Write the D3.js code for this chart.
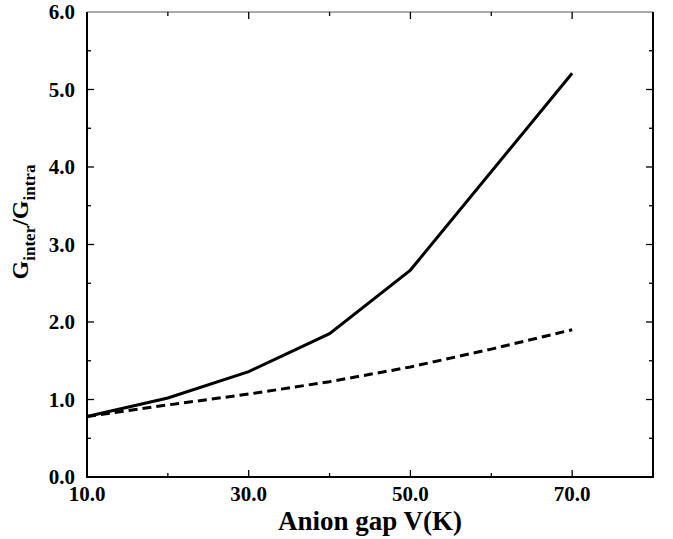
<!DOCTYPE html>
<html>
<head>
<meta charset="utf-8">
<script src="https://cdnjs.cloudflare.com/ajax/libs/d3/7.8.5/d3.min.js"></script>
<style>
  body { margin: 0; background: #fff; }
  text { font-family: "Liberation Serif", "Times New Roman", serif; font-weight: bold; }
</style>
</head>
<body>
<script>
var gapValues = [10, 20, 30, 40, 50, 70];
var solidRatio = [0.78, 1.02, 1.36, 1.85, 2.67, 5.21];
var dashedGap = [10, 20, 30, 40, 50, 60, 70];
var dashedRatio = [0.78, 0.93, 1.07, 1.23, 1.42, 1.65, 1.90];
var xTickLabels = [10, 30, 50, 70];
var yTickLabels = [0, 1, 2, 3, 4, 5, 6];

var width = 673,
    height = 539;
var margin = {left: 87, right: 20, top: 12, bottom: 62};

var svg = d3.select("body")
    .append("svg")
    .attr("width", width)
    .attr("height", height);

var x = d3.scaleLinear()
    .domain([10, 80])
    .range([margin.left, width - margin.right]);

var y = d3.scaleLinear()
    .domain([0, 6])
    .range([height - margin.bottom, margin.top]);

// frame
svg.append("line")
    .attr("x1", x(10)).attr("x2", x(80))
    .attr("y1", y(6)).attr("y2", y(6))
    .attr("stroke", "#aaa").attr("stroke-width", 2);

svg.append("path")
    .attr("d", "M" + x(10) + "," + y(6) + "V" + y(0) + "H" + x(80) + "V" + y(6))
    .attr("fill", "none")
    .attr("stroke", "#000")
    .attr("stroke-width", 2);

// ticks (inward)
function ticks(vals, len) {
    var g = svg.append("g").attr("stroke", "#000").attr("stroke-width", 1.3);
    vals.forEach(function(v){
        g.append("line").attr("x1", x(v)).attr("x2", x(v)).attr("y1", y(0)).attr("y2", y(0) - len);
        g.append("line").attr("x1", x(v)).attr("x2", x(v)).attr("y1", y(6)).attr("y2", y(6) + len);
    });
}
ticks(xTickLabels, 7);
ticks([20, 40, 60], 4);

function yticks(vals, len) {
    var g = svg.append("g").attr("stroke", "#000").attr("stroke-width", 1.3);
    vals.forEach(function(v){
        g.append("line").attr("x1", x(10)).attr("x2", x(10) + len).attr("y1", y(v)).attr("y2", y(v));
        g.append("line").attr("x1", x(80)).attr("x2", x(80) - len).attr("y1", y(v)).attr("y2", y(v));
    });
}
yticks(yTickLabels.slice(1, 6), 7);
yticks([0.5, 1.5, 2.5, 3.5, 4.5, 5.5], 4);

// tick labels
svg.selectAll(".xl")
    .data(xTickLabels)
    .enter()
    .append("text")
    .attr("x", function(d){ return x(d); })
    .attr("y", 501)
    .attr("text-anchor", "middle")
    .attr("font-size", 21)
    .text(function(d){ return d.toFixed(1); });

svg.selectAll(".yl")
    .data(yTickLabels)
    .enter()
    .append("text")
    .attr("x", 75)
    .attr("y", function(d){ return y(d) + 7; })
    .attr("text-anchor", "end")
    .attr("font-size", 21)
    .text(function(d){ return d.toFixed(1); });

// axis titles
svg.append("text")
    .attr("x", (x(10) + x(80)) / 2)
    .attr("y", 530)
    .attr("text-anchor", "middle")
    .attr("font-size", 27)
    .text("Anion gap V(K)");

var yt = svg.append("text")
    .attr("transform", "translate(28,222) rotate(-90)")
    .attr("text-anchor", "middle")
    .attr("font-size", 24);
yt.append("tspan").text("G");
yt.append("tspan").attr("font-size", 17).attr("dy", 7).text("inter");
yt.append("tspan").attr("dy", -7).text("/G");
yt.append("tspan").attr("font-size", 17).attr("dy", 7).text("intra");

// lines
var line = d3.line()
    .x(function(d){ return x(d[0]); })
    .y(function(d){ return y(d[1]); });

svg.append("path")
    .datum(d3.zip(dashedGap, dashedRatio))
    .attr("d", line)
    .attr("fill", "none")
    .attr("stroke", "#000")
    .attr("stroke-width", 3)
    .attr("stroke-dasharray", "9,5");

svg.append("path")
    .datum(d3.zip(gapValues, solidRatio))
    .attr("d", line)
    .attr("fill", "none")
    .attr("stroke", "#000")
    .attr("stroke-width", 3);
</script>
</body>
</html>
